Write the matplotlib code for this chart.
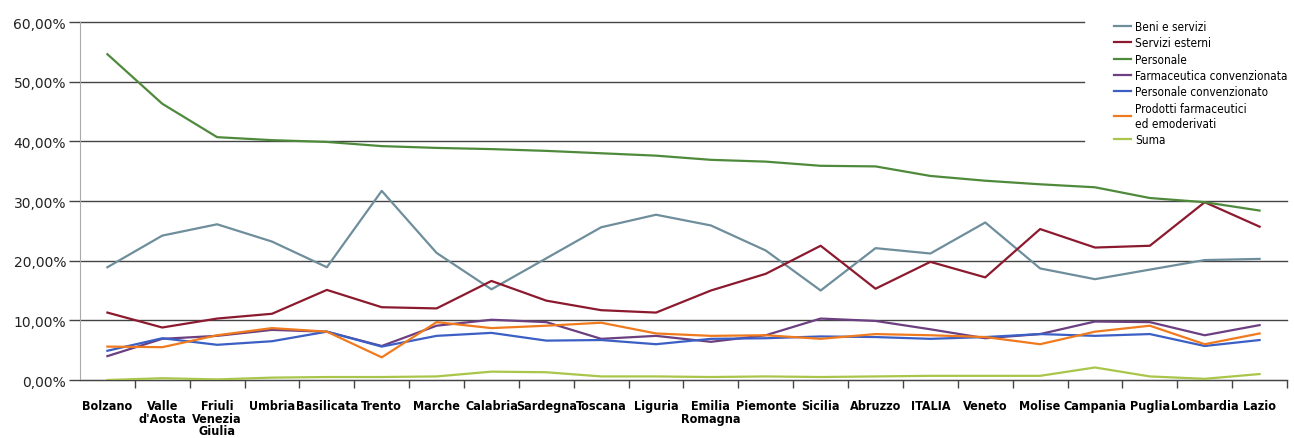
import matplotlib
matplotlib.use('Agg')
import matplotlib.pyplot as plt
from matplotlib import font_manager
from matplotlib.font_manager import FontProperties
from matplotlib.transforms import ScaledTranslation

regions = ['Bolzano', "Valle\nd'Aosta", 'Friuli\nVenezia\nGiulia', 'Umbria', 'Basilicata',
           'Trento', 'Marche', 'Calabria', 'Sardegna', 'Toscana', 'Liguria',
           'Emilia\nRomagna', 'Piemonte', 'Sicilia', 'Abruzzo', 'ITALIA', 'Veneto',
           'Molise', 'Campania', 'Puglia', 'Lombardia', 'Lazio']

beni_servizi = [18.9, 24.2, 26.1, 23.2, 18.9, 31.7, 21.3, 15.2, 20.4, 25.6, 27.7,
                25.9, 21.7, 15.0, 22.1, 21.2, 26.4, 18.7, 16.9, 18.5, 20.1, 20.3]
servizi_esterni = [11.3, 8.8, 10.3, 11.1, 15.1, 12.2, 12.0, 16.6, 13.3, 11.7, 11.3,
                   15.0, 17.8, 22.5, 15.3, 19.8, 17.2, 25.3, 22.2, 22.5, 29.8, 25.7]
personale = [54.6, 46.3, 40.7, 40.2, 39.9, 39.2, 38.9, 38.7, 38.4, 38.0, 37.6,
             36.9, 36.6, 35.9, 35.8, 34.2, 33.4, 32.8, 32.3, 30.5, 29.8, 28.4]
farmaceutica_conv = [4.0, 6.9, 7.4, 8.4, 8.1, 5.7, 9.1, 10.1, 9.7, 6.9, 7.4,
                     6.4, 7.5, 10.3, 9.9, 8.5, 7.0, 7.7, 9.8, 9.7, 7.5, 9.2]
personale_conv = [4.9, 7.0, 5.9, 6.5, 8.1, 5.6, 7.4, 7.9, 6.6, 6.7, 6.0,
                  6.9, 7.0, 7.3, 7.2, 6.9, 7.2, 7.7, 7.4, 7.7, 5.7, 6.7]
prodotti_farm = [5.6, 5.5, 7.5, 8.7, 8.1, 3.8, 9.7, 8.7, 9.1, 9.6, 7.8,
                 7.4, 7.5, 6.9, 7.7, 7.5, 7.2, 6.0, 8.1, 9.1, 6.0, 7.8]
suma = [0.0, 0.3, 0.1, 0.4, 0.5, 0.5, 0.6, 1.4, 1.3, 0.6, 0.6,
        0.5, 0.6, 0.5, 0.6, 0.7, 0.7, 0.7, 2.1, 0.6, 0.2, 1.0]

series = [
    ('Beni e servizi', beni_servizi, '#6f8e9c'),
    ('Servizi esterni', servizi_esterni, '#8c1a2e'),
    ('Personale', personale, '#4f8a3c'),
    ('Farmaceutica convenzionata', farmaceutica_conv, '#6b3f80'),
    ('Personale convenzionato', personale_conv, '#3b5fc4'),
    ('Prodotti farmaceutici\ned emoderivati', prodotti_farm, '#f07a1e'),
    ('Suma', suma, '#a9c64a'),
]
yticks = [0, 10, 20, 30, 40, 50, 60]

# condensed face if there is one, else plain Liberation Sans
cond = font_manager.findfont(FontProperties(family='DejaVu Sans', stretch='condensed',
                                            weight='bold'))
if 'Condensed' in cond:
    lab_font = dict(family='DejaVu Sans', stretch='condensed', size=9)
    leg_font = dict(family='DejaVu Sans', stretch='condensed', size=8.5)
else:
    lab_font = dict(family='Liberation Sans', size=8.5)
    leg_font = dict(family='Liberation Sans', size=8)

fig = plt.figure(figsize=(12.94, 4.39), dpi=100)
ax = fig.add_axes([0.0618, 0.1321, 0.9328, 0.8155])

x = list(range(len(regions)))
for label, vals, color in series:
    ax.plot(x, vals, color=color, lw=1.6, label=label, zorder=3)

ax.set_xlim(-0.5, len(regions) - 0.5)
ax.set_ylim(0, 60)

# grid lines, the upper ones stop short of the legend
for v in yticks:
    x_end = 17.8 if v >= 40 else len(regions) - 0.5
    ax.plot([-0.5, x_end], [v, v], color='#444444', lw=1, zorder=1, clip_on=False)

ax.set_yticks(yticks)
ax.set_yticklabels([f'{v},00%' for v in yticks], fontsize=10, color='#222222')
for lab in ax.get_yticklabels():
    lab.set_transform(lab.get_transform() + ScaledTranslation(0, 4 / 72, fig.dpi_scale_trans))
ax.tick_params(axis='y', length=8, width=1, color='#444444', pad=2)

ax.set_xticks(x)
ax.set_xticklabels(regions, fontweight='bold', linespacing=0.95, va='top', **lab_font)
ax.tick_params(axis='x', which='major', length=0, pad=14)
ax.set_xticks([i + 0.5 for i in range(len(regions))], minor=True)
ax.tick_params(axis='x', which='minor', length=6, width=1, color='#444444')

for side in ['top', 'right']:
    ax.spines[side].set_visible(False)
ax.spines['left'].set_color('#aaaaaa')
ax.spines['bottom'].set_color('#444444')

leg = ax.legend(loc='upper left', bbox_to_anchor=(0.848, 1.035), frameon=False,
                prop=leg_font, handlelength=1.4, handletextpad=0.35,
                labelspacing=0.28, borderpad=0.4)

fig.savefig('out.png', dpi=100)
